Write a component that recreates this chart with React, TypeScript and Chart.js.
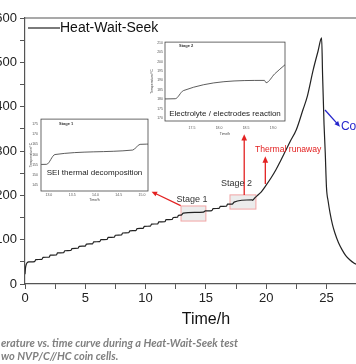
import React, { useEffect, useRef } from "react";
import { Chart, registerables } from "chart.js";
Chart.register(...registerables);

const FONT = "'Liberation Sans', Arial, sans-serif";

// Temperature (°C) vs time (h) of the Heat-Wait-Seek run
const timeH = [
  0, 0.04, 0.1, 0.2, 0.3,
  0.8, 0.9, 1.4, 1.5, 2.0, 2.1, 2.6, 2.7, 3.2, 3.3, 3.8, 3.9, 4.4, 4.5, 5.0,
  5.1, 5.6, 5.7, 6.2, 6.3, 6.8, 6.9, 7.4, 7.5, 8.0, 8.1, 8.6, 8.7, 9.2, 9.3, 9.8,
  9.9, 10.4, 10.5, 11.0, 11.1, 11.6, 11.7, 12.2, 12.3, 12.65, 12.72, 12.95, 13.13,
  14.8, 14.96, 15.5, 15.6, 16.1, 16.2, 16.7, 16.8, 17.19, 17.34, 18.84, 18.87,
  19.03, 19.22, 19.6, 20.0, 20.4, 20.8, 21.2, 21.6, 22.0, 22.5, 23.05, 23.4, 23.9,
  24.3, 24.6, 24.68, 24.8, 24.9, 25.0, 25.15, 25.3, 25.5, 25.7, 26.0, 26.3, 26.6,
  26.95, 27.3, 27.6,
];
const tempC = [
  22, 36, 44, 48.5, 50,
  50.6, 55, 55.6, 60, 60.6, 65, 65.6, 70, 70.6, 75, 75.6, 80, 80.6, 85, 85.6,
  90, 90.6, 95, 95.6, 100, 100.6, 105, 105.6, 110, 110.6, 115, 115.6, 120, 120.6, 125, 125.6,
  130, 130.6, 135, 135.6, 140, 140.6, 145, 145.6, 150, 150.5, 155, 155.2, 160,
  162.2, 165, 165.6, 170, 170.6, 175, 175.6, 180, 180.3, 184.6, 190, 188.8,
  193.5, 198.3, 208, 223, 239, 257, 278, 300, 322, 348, 393, 422, 483,
  525, 555, 470, 360, 296, 219, 185, 160, 134, 115, 93, 77, 64,
  54, 47, 43,
];

const seriesName = "Heat-Wait-Seek";
const xTitle = "Time/h";
const insetYTitle = "Temperature/°C";
const captionLines = [
  "erature vs. time curve during a Heat-Wait-Seek test",
  "wo NVP/C//HC coin cells.",
];
const stage1Label = "Stage 1";
const stage2Label = "Stage 2";
const stage1Text = "SEI thermal decomposition";
const stage2Text = "Electrolyte / electrodes reaction";
const runawayText = "Thermal runaway";
const coolingText = "Cooling";

const RED = "#e32222";
const BLUE = "#2626cc";

const points = timeH.map((t, i) => ({ x: t, y: tempC[i] }));

function arrow(ctx: any, x1: number, y1: number, x2: number, y2: number, color: string, head = 6, w = 1.2) {
  const a = Math.atan2(y2 - y1, x2 - x1);
  ctx.strokeStyle = color;
  ctx.fillStyle = color;
  ctx.lineWidth = w;
  ctx.beginPath();
  ctx.moveTo(x1, y1);
  ctx.lineTo(x2 - Math.cos(a) * head * 0.8, y2 - Math.sin(a) * head * 0.8);
  ctx.stroke();
  ctx.beginPath();
  ctx.moveTo(x2, y2);
  ctx.lineTo(x2 - head * Math.cos(a - 0.42), y2 - head * Math.sin(a - 0.42));
  ctx.lineTo(x2 - head * Math.cos(a + 0.42), y2 - head * Math.sin(a + 0.42));
  ctx.closePath();
  ctx.fill();
}

const mainPlugin = {
  id: "mainDecor",
  beforeDatasetsDraw(chart: any) {
    const { ctx, scales } = chart;
    const X = (v: number) => scales.x.getPixelForValue(v);
    const Y = (v: number) => scales.y.getPixelForValue(v);
    ctx.save();
    const boxes = [
      [12.94, 15.0, 142, 176],
      [17.0, 19.15, 169, 201],
    ];
    for (const [x0, x1, y0, y1] of boxes) {
      ctx.fillStyle = "rgba(200,200,200,0.35)";
      ctx.fillRect(X(x0), Y(y1), X(x1) - X(x0), Y(y0) - Y(y1));
      ctx.strokeStyle = "#f2a5a5";
      ctx.lineWidth = 1;
      ctx.strokeRect(X(x0), Y(y1), X(x1) - X(x0), Y(y0) - Y(y1));
    }
    ctx.restore();
  },
  afterDraw(chart: any) {
    const { ctx, scales, chartArea } = chart;
    const X = (v: number) => scales.x.getPixelForValue(v);
    const Y = (v: number) => scales.y.getPixelForValue(v);
    ctx.save();
    // top frame
    ctx.strokeStyle = "#555";
    ctx.lineWidth = 1.2;
    ctx.beginPath();
    ctx.moveTo(chartArea.left, chartArea.top);
    ctx.lineTo(chartArea.right, chartArea.top);
    ctx.stroke();

    // legend
    ctx.strokeStyle = "#222";
    ctx.lineWidth = 1.2;
    ctx.beginPath();
    ctx.moveTo(chartArea.left + 3, chartArea.top + 10);
    ctx.lineTo(chartArea.left + 35, chartArea.top + 10);
    ctx.stroke();
    ctx.fillStyle = "#111";
    ctx.font = `14px ${FONT}`;
    ctx.textBaseline = "middle";
    ctx.textAlign = "left";
    ctx.fillText(seriesName, chartArea.left + 35, chartArea.top + 10);

    // x title
    ctx.font = `16px ${FONT}`;
    ctx.textAlign = "center";
    ctx.fillStyle = "#111";
    ctx.fillText(xTitle, X(15), chartArea.bottom + 36);

    // arrows
    arrow(ctx, X(12.91), Y(176.6), X(10.5), Y(208.2), RED, 6, 1.3);
    arrow(ctx, X(18.18), Y(201), X(18.18), Y(338), RED, 7, 1.3);
    arrow(ctx, X(19.93), Y(225.6), X(19.93), Y(288), RED, 7, 1.3);
    arrow(ctx, X(24.88), Y(392.5), X(26.12), Y(354.8), BLUE, 6, 1.3);

    // texts
    ctx.font = `9px ${FONT}`;
    ctx.fillStyle = "#333";
    ctx.textAlign = "center";
    ctx.fillText(stage1Label, X(13.85), Y(189.5));
    ctx.fillText(stage2Label, X(17.54), Y(225.6));
    ctx.fillStyle = RED;
    ctx.font = `8.6px ${FONT}`;
    ctx.textAlign = "left";
    ctx.fillText(runawayText, X(19.07), Y(302.3));
    ctx.fillStyle = BLUE;
    ctx.font = `12px ${FONT}`;
    ctx.fillText(coolingText, X(26.2), Y(354));

    // caption
    ctx.fillStyle = "#808080";
    ctx.font = `italic bold 11px Lato, ${FONT}`;
    const w0 = ctx.measureText(captionLines[0]).width;
    const s = Math.min(1, 238 / w0);
    ctx.translate(1, 0);
    ctx.scale(s, 1);
    ctx.fillText(captionLines[0], 0, 343);
    ctx.fillText(captionLines[1], 0, 356);
    ctx.restore();
  },
};

function insetPlugin(label: string, text: string, labelDx: number, labelDy: number, textDy: number, textSize: number) {
  return {
    id: "insetDecor",
    afterDraw(chart: any) {
      const { ctx, chartArea } = chart;
      ctx.save();
      ctx.strokeStyle = "#444";
      ctx.lineWidth = 0.8;
      ctx.strokeRect(chartArea.left, chartArea.top, chartArea.right - chartArea.left, chartArea.bottom - chartArea.top);
      ctx.fillStyle = "#333";
      ctx.font = `bold 4px ${FONT}`;
      ctx.textBaseline = "middle";
      ctx.textAlign = "left";
      ctx.fillText(label, chartArea.left + labelDx, chartArea.top + labelDy);
      ctx.font = `${textSize}px ${FONT}`;
      ctx.fillStyle = "#222";
      ctx.textAlign = "center";
      ctx.fillText(text, (chartArea.left + chartArea.right) / 2, chartArea.bottom - textDy);
      ctx.restore();
    },
  };
}

function insetConfig(
  xr: number[], yr: number[], xFirst: number,
  dims: { yW: number; xH: number; top: number; right: number; xPad: number; xTitlePad: number; yPad: number; yTitlePad: number },
  plugin: any
): any {
  const tickFont = { family: FONT, size: 3.5 };
  return {
    type: "line",
    data: {
      datasets: [
        {
          data: points,
          borderColor: "#333",
          borderWidth: 0.8,
          pointRadius: 0,
          cubicInterpolationMode: "monotone",
        },
      ],
    },
    options: {
      responsive: false,
      animation: false,
      layout: { padding: { top: dims.top, right: dims.right, left: 0, bottom: 0 } },
      plugins: { legend: { display: false }, tooltip: { enabled: false } },
      scales: {
        x: {
          type: "linear",
          min: xr[0],
          max: xr[1],
          afterFit: (s: any) => { s.height = dims.xH; },
          grid: { display: false, drawTicks: false },
          border: { display: false },
          ticks: {
            stepSize: 0.5,
            includeBounds: false,
            autoSkip: false,
            maxRotation: 0,
            padding: dims.xPad,
            font: tickFont,
            color: "#555",
            callback: (v: number) => (Number(v) >= xFirst - 1e-6 ? Number(v).toFixed(1) : ""),
          },
          title: { display: true, text: xTitle, font: { family: FONT, size: 3.5 }, color: "#444", padding: { top: 0, bottom: dims.xTitlePad } },
        },
        y: {
          min: yr[0],
          max: yr[1],
          afterFit: (s: any) => { s.width = dims.yW; },
          grid: { display: false, drawTicks: false },
          border: { display: false },
          ticks: { stepSize: 5, includeBounds: false, autoSkip: false, padding: dims.yPad, font: tickFont, color: "#555" },
          title: { display: true, text: insetYTitle, font: { family: FONT, size: 3.5 }, color: "#444", padding: { top: dims.yTitlePad, bottom: 0 } },
        },
      },
    },
    plugins: [plugin],
  };
}

export default function App() {
  const mainRef = useRef<HTMLCanvasElement>(null);
  const in1Ref = useRef<HTMLCanvasElement>(null);
  const in2Ref = useRef<HTMLCanvasElement>(null);

  useEffect(() => {
    const tickFont = { family: FONT, size: 13 };
    const main = new Chart(mainRef.current as HTMLCanvasElement, {
      type: "line",
      data: {
        datasets: [
          {
            label: seriesName,
            data: points,
            borderColor: "#222",
            borderWidth: 1.2,
            pointRadius: 0,
            cubicInterpolationMode: "monotone",
          },
        ],
      },
      options: {
        responsive: false,
        animation: false,
        layout: { padding: { top: 18, right: 0, left: 0, bottom: 0 } },
        plugins: { legend: { display: false }, tooltip: { enabled: false } },
        scales: {
          x: {
            type: "linear",
            min: 0,
            max: 27.45,
            afterFit: (s: any) => { s.height = 80; },
            grid: { drawOnChartArea: false, tickLength: 5, color: "#555" },
            border: { color: "#555", width: 1.2 },
            ticks: {
              stepSize: 2.5,
              includeBounds: false,
              autoSkip: false,
              maxRotation: 0,
              padding: 2,
              font: tickFont,
              color: "#222",
              callback: (v: any) => (Number(v) % 5 === 0 ? String(v) : ""),
            },
          },
          y: {
            min: 0,
            max: 600,
            afterFit: (s: any) => { s.width = 25; },
            grid: { drawOnChartArea: false, tickLength: 5, color: "#555" },
            border: { color: "#555", width: 1.2 },
            ticks: {
              stepSize: 50,
              autoSkip: false,
              padding: 3,
              font: tickFont,
              color: "#222",
              callback: (v: any) => (Number(v) % 100 === 0 ? String(v) : ""),
            },
          },
        },
      } as any,
      plugins: [mainPlugin],
    });

    const in1 = new Chart(
      in1Ref.current as HTMLCanvasElement,
      insetConfig([12.83, 15.13], [142.1, 177.4], 13.0,
        { yW: 13, xH: 15, top: 3, right: 4, xPad: 2, xTitlePad: 4, yPad: 3, yTitlePad: 0.6 },
        insetPlugin(stage1Label, stage1Text, 18, 5, 18, 8))
    );
    const in2 = new Chart(
      in2Ref.current as HTMLCanvasElement,
      insetConfig([17.0, 19.22], [168.5, 210.3], 17.5,
        { yW: 17, xH: 17, top: 4, right: 3, xPad: 5, xTitlePad: 1.6, yPad: 2, yTitlePad: 2.3 },
        insetPlugin(stage2Label, stage2Text, 14, 4, 7, 8))
    );
    return () => {
      main.destroy();
      in1.destroy();
      in2.destroy();
    };
  }, []);

  return (
    <div style={{ position: "fixed", left: 0, top: 0, width: 356, height: 364, background: "#fff", overflow: "hidden" }}>
      <canvas ref={mainRef} width={356} height={364} style={{ position: "absolute", left: 0, top: 0, width: 356, height: 364 }} />
      <canvas ref={in1Ref} width={124} height={92} style={{ position: "absolute", left: 28, top: 114, width: 124, height: 92 }} />
      <canvas ref={in2Ref} width={140} height={100} style={{ position: "absolute", left: 148, top: 38, width: 140, height: 100 }} />
    </div>
  );
}
